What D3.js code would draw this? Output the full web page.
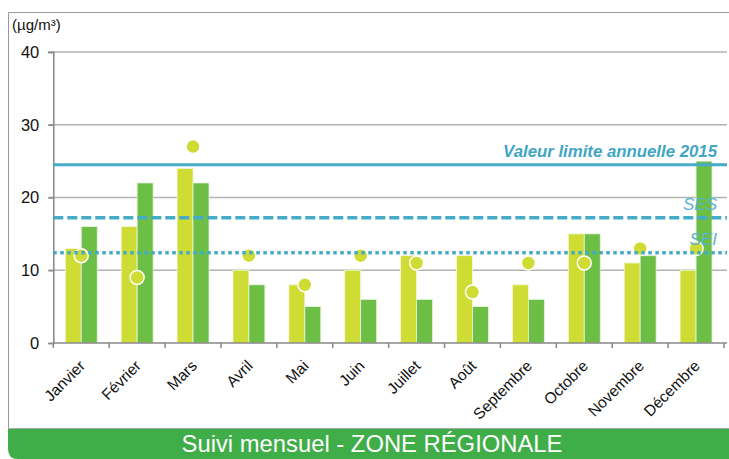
<!DOCTYPE html>
<html>
<head>
<meta charset="utf-8">
<script src="https://cdn.jsdelivr.net/npm/d3@7"></script>
<style>
  body { margin: 0; background: #fff; }
  svg { font-family: "Liberation Sans", Arial, sans-serif; }
</style>
</head>
<body>
<div id="chart"></div>
<script>
const months = ["Janvier", "Février", "Mars", "Avril", "Mai", "Juin", "Juillet", "Août",
    "Septembre", "Octobre", "Novembre", "Décembre"];
const serieA = [13, 16, 24, 10, 8, 10, 12, 12, 8, 15, 11, 10];   // barres jaunes
const serieB = [16, 22, 22, 8, 5, 6, 6, 5, 6, 15, 12, 25];       // barres vertes
const points = [12, 9, 27, 12, 8, 12, 11, 7, 11, 11, 13, 13];    // cercles
const yTicks = [0, 10, 20, 30, 40];
const seuils = [
    { label: "Valeur limite annuelle 2015", value: 24.5, type: "solid" },
    { label: "SES", value: 17.2, type: "dash" },
    { label: "SEI", value: 12.4, type: "dot" }
];

const W = 729, H = 459;
const plot = { left: 53.3, right: 724, top: 52, bottom: 343 };
const yellow = "#cfdc33", green = "#6cbe45", blue = "#45abc7";

const svg = d3.select("#chart").append("svg")
    .attr("width", W)
    .attr("height", H);

// cadre
svg.append("path")
    .attr("d", `M8.5,429 V12.5 H${W}`)
    .attr("fill", "none")
    .attr("stroke", "#9a9a9a")
    .attr("stroke-width", 1);

const x = d3.scaleBand().domain(months).range([plot.left, plot.right]);
const x1 = d3.scaleBand().domain(["a", "b"]).range([0, x.bandwidth()]).paddingOuter(0.75);
const y = d3.scaleLinear().domain([0, 40]).range([plot.bottom, plot.top]);

// grille
svg.append("g")
    .selectAll("line")
    .data(yTicks.filter(d => d > 0))
    .enter().append("line")
    .attr("x1", plot.left - 5).attr("x2", 727)
    .attr("y1", d => y(d)).attr("y2", d => y(d))
    .attr("stroke", "#b3b3b3")
    .attr("stroke-width", 1.5);

// axe Y
const gy = svg.append("g")
    .attr("transform", `translate(${plot.left},0)`)
    .call(d3.axisLeft(y).tickValues(yTicks).tickSize(5).tickPadding(9));
gy.select(".domain").attr("stroke", "#888").attr("stroke-width", 1.5);
gy.selectAll(".tick line").attr("stroke", "#888").attr("stroke-width", 1.5);
gy.selectAll("text").attr("font-size", 16.5).attr("fill", "#111");

svg.append("text")
    .attr("x", 12).attr("y", 30)
    .attr("font-size", 15)
    .attr("fill", "#111")
    .text("(µg/m³)");

// barres
const grp = svg.append("g").selectAll("g")
    .data(months)
    .enter().append("g")
    .attr("transform", d => `translate(${x(d)},0)`);

grp.append("rect")
    .attr("x", x1("a"))
    .attr("width", x1.bandwidth())
    .attr("y", (d, i) => y(serieA[i]))
    .attr("height", (d, i) => y(0) - y(serieA[i]))
    .attr("fill", yellow)
    .attr("stroke", "#f4f8e0")
    .attr("stroke-width", 0.8);

grp.append("rect")
    .attr("x", x1("b"))
    .attr("width", x1.bandwidth())
    .attr("y", (d, i) => y(serieB[i]))
    .attr("height", (d, i) => y(0) - y(serieB[i]))
    .attr("fill", green)
    .attr("stroke", "#e6f3dd")
    .attr("stroke-width", 0.8);

// axe X
const gx = svg.append("g")
    .attr("transform", `translate(0,${plot.bottom})`);
gx.append("line")
    .attr("x1", plot.left).attr("x2", 727)
    .attr("stroke", "#888").attr("stroke-width", 1.5);
gx.selectAll(".tk")
    .data(months.concat(["fin"]))
    .enter().append("line")
    .attr("class", "tk")
    .attr("x1", (d, i) => i < months.length ? x(d) : plot.right)
    .attr("x2", (d, i) => i < months.length ? x(d) : plot.right)
    .attr("y1", 0).attr("y2", 5)
    .attr("stroke", "#888").attr("stroke-width", 1.5);
gx.selectAll(".lbl")
    .data(months)
    .enter().append("text")
    .attr("class", "lbl")
    .attr("text-anchor", "end")
    .attr("dy", "0.35em")
    .attr("font-size", 15.5)
    .attr("fill", "#111")
    .attr("transform", d => `translate(${x(d) + x.bandwidth() / 2 + 1},20) rotate(-45)`)
    .text(d => d);

// seuils
const dash = { solid: null, dash: "10,4", dot: "3.5,3.5" };
const sw = { solid: 3, dash: 3.5, dot: 3.5 };
svg.append("g").selectAll("line")
    .data(seuils)
    .enter().append("line")
    .attr("x1", plot.left).attr("x2", 727)
    .attr("y1", d => y(d.value)).attr("y2", d => y(d.value))
    .attr("stroke", blue)
    .attr("stroke-width", d => sw[d.type])
    .attr("stroke-dasharray", d => dash[d.type]);

// cercles
grp.append("circle")
    .attr("cx", x.bandwidth() / 2)
    .attr("cy", (d, i) => y(points[i]))
    .attr("r", 7)
    .attr("fill", yellow)
    .attr("stroke", "#fff")
    .attr("stroke-width", 1.5);

// étiquettes des seuils
svg.append("g").selectAll("text")
    .data(seuils)
    .enter().append("text")
    .attr("x", 717)
    .attr("y", d => y(d.value) - 8)
    .attr("text-anchor", "end")
    .attr("font-size", d => d.type === "solid" ? 16.8 : 17)
    .attr("font-style", "italic")
    .attr("font-weight", d => d.type === "solid" ? "bold" : "normal")
    .attr("fill", d => d.type === "solid" ? "#3fa6c4" : "#56b3d3")
    .text(d => d.label);

// bandeau
svg.append("path")
    .attr("d", `M8,429 H${W} V${H} H18 Q8,${H} 8,${H - 10} Z`)
    .attr("fill", "#3fad48");
svg.append("line")
    .attr("x1", 8).attr("x2", W)
    .attr("y1", 428.5).attr("y2", 428.5)
    .attr("stroke", "#a8a8a8");
svg.append("text")
    .attr("x", 372).attr("y", 452)
    .attr("text-anchor", "middle")
    .attr("font-size", 23.8)
    .attr("fill", "#fff")
    .text("Suivi mensuel - ZONE RÉGIONALE");
</script>
</body>
</html>
